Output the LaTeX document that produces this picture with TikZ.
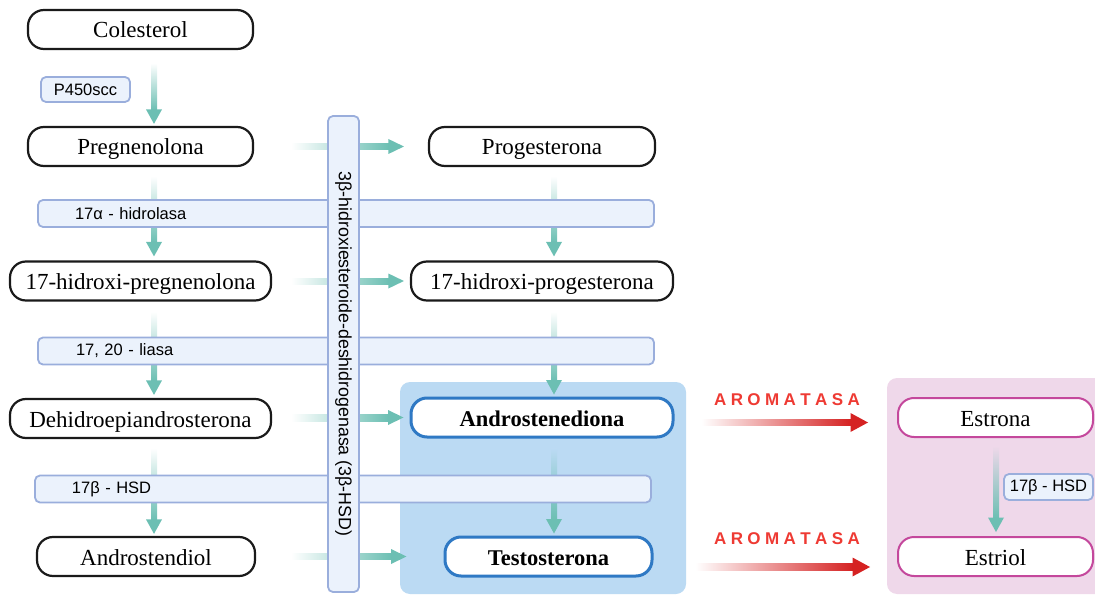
\documentclass[tikz,border=0pt]{standalone}
\usepackage{fontspec}
\setmainfont{Liberation Serif}
\setsansfont{Liberation Sans}
\usetikzlibrary{calc}
\definecolor{teal1}{HTML}{6CBFB3}
\definecolor{barfill}{HTML}{EBF2FC}
\definecolor{barline}{HTML}{9AAEDC}
\definecolor{bluereg}{HTML}{BBDAF3}
\definecolor{pinkreg}{HTML}{EFD8EA}
\definecolor{blueline}{HTML}{2F79C4}
\definecolor{pinkline}{HTML}{C4489C}
\definecolor{redarrow}{HTML}{D52222}
\definecolor{redtext}{HTML}{EE3A33}
\definecolor{molline}{HTML}{1A1A1A}
% vertical gradient arrow: start, tip, background colour
\newcommand\vgarrow[3]{%
  \shade[top color=#3, middle color=teal1, bottom color=teal1]
    let \p1=(#1), \p2=(#2) in (\x1-3pt,\y1) rectangle (\x2+3pt,\y2+14pt);
  \fill[teal1] let \p2=(#2) in (\x2-8pt,\y2+14.5pt) -- (\x2+8pt,\y2+14.5pt) -- (\x2,\y2) -- cycle;}
% horizontal gradient arrow: start, tip, colour, shaft half, head length, head half
\newcommand\hgarrow[6]{%
  \shade[left color=white, middle color=#3, right color=#3]
    let \p1=(#1), \p2=(#2) in (\x1,\y1-#4) rectangle (\x2-#5,\y2+#4);
  \fill[#3] let \p2=(#2) in (\x2-#5-0.5pt,\y2-#6) -- (\x2-#5-0.5pt,\y2+#6) -- (\x2,\y2) -- cycle;}
\newcommand\aromtext{A\kern4.4pt R\kern4.4pt O\kern4.4pt M\kern4.4pt A\kern4.4pt T\kern4.4pt A\kern4.4pt S\kern4.4pt A}
\tikzset{
  mol/.style={draw=molline, line width=2.2pt, rounded corners=16pt, fill=white,
    minimum height=39pt, inner sep=0pt, text height=18pt, text depth=1pt,
    font=\fontsize{23}{25}\selectfont},
  molblue/.style={mol, draw=blueline, line width=3pt, font=\fontsize{22.5}{25}\selectfont\bfseries},
  molpink/.style={mol, draw=pinkline, line width=2pt},
  bar/.style={draw=barline, fill=barfill, line width=1.8pt, rounded corners=5pt,
    inner sep=0pt, font=\sffamily\fontsize{16.5}{18}\selectfont},
  longbar/.style={bar, minimum width=616pt, minimum height=27pt, text width=606pt, align=left},
  arom/.style={text=redtext, font=\sffamily\bfseries\fontsize{17}{19}\selectfont, inner sep=0pt},
}
\begin{document}
\begin{tikzpicture}[x=1pt, y=-1pt]
\useasboundingbox (0,0) rectangle (1095,596);
% regions
\fill[bluereg, rounded corners=10pt] (400,382) rectangle (686,594);
\fill[pinkreg, rounded corners=10pt] (887,378) rectangle (1105,594);
% molecules
\node[mol, minimum width=225pt] (col) at (140.5,29.5) {Colesterol};
\node[mol, minimum width=225pt] (preg) at (140.5,146.5) {Pregnenolona};
\node[mol, minimum width=226pt] (prog) at (542,146.5) {Progesterona};
\node[mol, minimum width=261pt] (hpreg) at (140.5,281) {17-hidroxi-pregnenolona};
\node[mol, minimum width=262pt] (hprog) at (542,281) {17-hidroxi-progesterona};
\node[mol, minimum width=261pt] (dhea) at (140.5,418.5) {Dehidroepiandrosterona};
\node[molblue, minimum width=262pt] (andro) at (542,417.5) {Androstenediona};
\node[mol, minimum width=218pt] (adiol) at (146,556.5) {Androstendiol};
\node[molblue, minimum width=207pt] (testo) at (548.5,556.5) {Testosterona};
\node[molpink, minimum width=195pt] (estrona) at (995.5,417.5) {Estrona};
\node[molpink, minimum width=195pt] (estriol) at (995.5,556.5) {Estriol};
% vertical teal arrows
\vgarrow{$(col.south)+(13.5,13)$}{$(preg.north)+(13.5,-2)$}{white}
\vgarrow{$(preg.south)+(13.5,9)$}{$(hpreg.north)+(13.5,-4)$}{white}
\vgarrow{$(hpreg.south)+(13.5,10)$}{$(dhea.north)+(13.5,-3)$}{white}
\vgarrow{$(dhea.south)+(13.5,9)$}{$(adiol.north)+(8,-2)$}{white}
\vgarrow{$(prog.south)+(12,9)$}{$(hprog.north)+(12,-4)$}{white}
\vgarrow{$(hprog.south)+(12,10)$}{$(andro.north)+(12,-2)$}{white}
\vgarrow{$(andro.south)+(12,10)$}{$(testo.north)+(5.5,-2)$}{bluereg}
\vgarrow{$(estrona.south)+(0.5,8)$}{$(estriol.north)+(0.5,-4)$}{pinkreg}
% horizontal teal arrows
\hgarrow{$(preg.east)+(37,0)$}{$(prog.west)+(-24,0)$}{teal1}{3pt}{15pt}{7.5pt}
\hgarrow{$(hpreg.east)+(19,0)$}{$(hprog.west)+(-6,0)$}{teal1}{3pt}{15pt}{7.5pt}
\hgarrow{$(dhea.east)+(19,0)$}{$(andro.west)+(-6,0)$}{teal1}{3pt}{15pt}{7.5pt}
\hgarrow{$(adiol.east)+(35,0)$}{$(testo.west)+(-37,0)$}{teal1}{3pt}{15pt}{7.5pt}
% enzyme bars
\node[bar, minimum width=89pt, minimum height=25pt] (p450) at (85.5,89.5) {P450scc};
\node[longbar] (alfa) at (346,213.5) {\hspace*{32pt}17α - hidrolasa};
\node[longbar] (liasa) at (346,351) {\hspace*{33pt}17, 20 - liasa};
\node[longbar] (hsd) at (343,489) {\hspace*{32pt}17β - HSD};
\node[bar, minimum width=476pt, minimum height=31pt, rotate=-90,
  font=\sffamily\fontsize{17.8}{19}\selectfont] (hsd3) at (343.5,354)
  {3β-hidroxiesteroide-deshidrogenasa (3β-HSD)};
\node[bar, minimum width=89pt, minimum height=26pt] (hsd2) at (1048.5,487) {17β - HSD};
% aromatase
\hgarrow{$(andro.east)+(27,5)$}{$(estrona.west)+(-29,5)$}{redarrow}{3.3pt}{17pt}{9.5pt}
\hgarrow{$(testo.east)+(42,10.5)$}{$(estriol.west)+(-27,10.5)$}{redarrow}{3.3pt}{17pt}{9.5pt}
\node[arom] (ar1) at (787,400) {\aromtext};
\node[arom] (ar2) at (787,539) {\aromtext};
\end{tikzpicture}
\end{document}
